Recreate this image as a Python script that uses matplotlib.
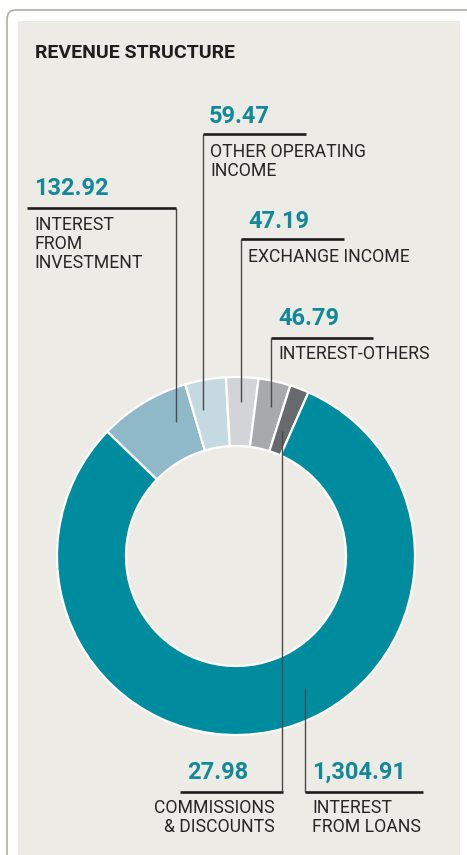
import matplotlib
matplotlib.use("Agg")
import matplotlib.pyplot as plt
from matplotlib.patches import FancyBboxPatch, Rectangle

# ---- data ----
categories = ["INTEREST FROM INVESTMENT", "OTHER OPERATING INCOME", "EXCHANGE INCOME",
              "INTEREST-OTHERS", "COMMISSIONS & DISCOUNTS", "INTEREST FROM LOANS"]
values = [132.92, 59.47, 47.19, 46.79, 27.98, 1304.91]
value_labels = ["132.92", "59.47", "47.19", "46.79", "27.98", "1,304.91"]
label_lines = [["INTEREST", "FROM", "INVESTMENT"], ["OTHER OPERATING", "INCOME"],
               ["EXCHANGE INCOME"], ["INTEREST-OTHERS"],
               ["COMMISSIONS", "& DISCOUNTS"], ["INTEREST", "FROM LOANS"]]
title = "REVENUE STRUCTURE"

colors = ["#8fb9c9", "#c4d9e2", "#d3d4d7", "#a8a9ac", "#68696c", "#008c9f"]
BG = "#ecebe5"
TEAL_TXT = "#12899b"

W, H = 467, 855
fig = plt.figure(figsize=(W / 100, H / 100), dpi=100)
fig.patch.set_facecolor("white")
ax = fig.add_axes([0, 0, 1, 1])

def Y(p):
    return H - p

# frame
border = FancyBboxPatch((7, Y(900)), 520, 890, boxstyle="round,pad=0,rounding_size=9",
                        facecolor="white", edgecolor="#b3b4ab", linewidth=1.3)
ax.add_patch(border)
ax.add_patch(Rectangle((18, Y(900)), 442, 900 - 21, facecolor=BG, edgecolor="none"))

# donut
cx, cy, R, w = 236, Y(556), 179, 69
ax.pie(values, colors=colors, startangle=136, counterclock=False,
       radius=R, center=(cx, cy),
       wedgeprops=dict(width=w, edgecolor="white", linewidth=1.6))

val_font = dict(family=["Roboto", "DejaVu Sans"], fontweight="bold",
                fontsize=17.0, color=TEAL_TXT)
lab_font = dict(family=["Roboto", "DejaVu Sans"], fontsize=12.7, color="#262626")

# label layout: (value x, value baseline, align, hline x0, x1, hline y, vline x, vline top/bottom, label x, label baselines)
layout = [
    (34, 195, "left", 27, 176, 208, 176, 208, 422, 34, [230, 249, 268]),
    (209, 123, "left", 203, 306, 134, 203, 134, 410, 210, [157, 176]),
    (248, 228, "left", 241, 344, 239, 241, 239, 402, 248, [262]),
    (278, 325, "left", 271, 373, 338, 271, 338, 407, 278, [359]),
    (248, 779, "right", 180, 283, 792, 282, 431, 792, 275, [813, 832]),
    (312, 779, "left", 305, 423, 792, 305, 688, 792, 312, [813, 832]),
]

for i, (vx, vy, ha, hx0, hx1, hy, lx, ly0, ly1, tx, tys) in enumerate(layout):
    ax.plot([lx, lx], [Y(ly0), Y(ly1)], color="#4a4a4a", lw=1.0, solid_capstyle="butt", zorder=5)
    ax.plot([hx0, hx1], [Y(hy), Y(hy)], color="#1e1e1e", lw=1.9, solid_capstyle="butt", zorder=5)
    ax.text(vx, Y(vy), value_labels[i], ha=ha, va="baseline", **val_font)
    for line, ty in zip(label_lines[i], tys):
        ax.text(tx, Y(ty), line, ha=ha, va="baseline", **lab_font)

ax.text(35, Y(58), title, ha="left", va="baseline", family=["Roboto", "DejaVu Sans"],
        fontweight="bold", fontsize=14.0, color="#1e1e1e")

ax.set_xlim(0, W)
ax.set_ylim(0, H)
ax.set_aspect("auto")
ax.axis("off")

fig.savefig("out.png", dpi=100, facecolor="white")
